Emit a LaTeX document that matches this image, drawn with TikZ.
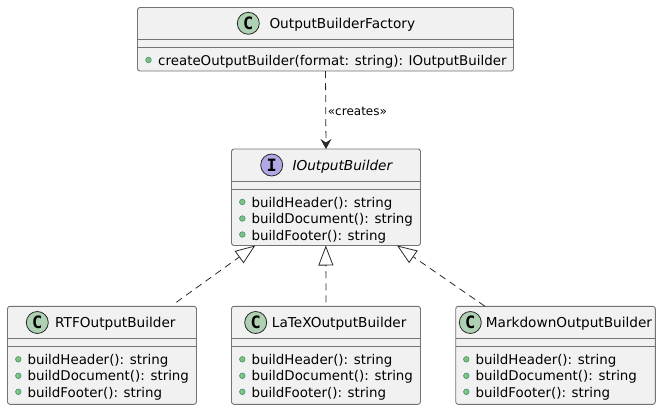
\documentclass[tikz,border=0pt]{standalone}
\usepackage{fontspec}
\setmainfont{DejaVu Sans}
\newfontfamily\glyphfont{DejaVu Sans Mono}
\usetikzlibrary{arrows.meta}
\definecolor{boxfill}{HTML}{F1F1F1}
\definecolor{boxline}{HTML}{737373}
\definecolor{inkline}{HTML}{2A2A2A}
\definecolor{classcirc}{HTML}{ADD1B2}
\definecolor{ifacecirc}{HTML}{B4A7E5}
\definecolor{dotfill}{HTML}{84BE84}
\definecolor{dotline}{HTML}{3A9A6A}
\tikzset{
  x=1pt,y=-1pt,
  umlbox/.style={draw=boxline,fill=boxfill,line width=0.9pt,rounded corners=2.5pt,inner sep=0pt,outer sep=0pt},
  sepline/.style={draw=boxline,line width=0.9pt},
  titletext/.style={inner sep=0pt,anchor=base west,text=black,font=\fontsize{13.65}{14}\selectfont},
  membertext/.style={inner sep=0pt,anchor=base west,text=black,font=\fontsize{13.4}{14}\selectfont},
  badge/.style={circle,draw=inkline,line width=0.8pt,minimum size=22pt,inner sep=0pt,text=black,font=\fontsize{17}{17}\selectfont\glyphfont\bfseries},
  memberdot/.style={circle,draw=dotline,fill=dotfill,line width=0.6pt,minimum size=5.6pt,inner sep=0pt},
  dep/.style={draw=inkline,line width=0.8pt,dash pattern=on 7pt off 5pt},
  realize/.style={dep,-{Triangle[open,length=20pt,width=15pt,line width=0.8pt,fill=white]}},
  creates/.style={dep,-{Stealth[length=10pt,width=11pt,inset=3.5pt,fill=inkline]}},
}
% name, left, top, right, bottom
\newcommand{\umlbox}[5]{%
  \node[umlbox,minimum width=#4pt-#2pt,minimum height=#5pt-#3pt] (#1) at ({(#2+#4)/2},{(#3+#5)/2}) {};
  \draw[sepline] (#2,#3+32) -- (#4,#3+32);
  \draw[sepline] (#2,#3+40) -- (#4,#3+40);
}
% prefix, dot x, top of box
\newcommand{\threemembers}[3]{%
  \node[memberdot] (#1d1) at (#2,#3+53) {};
  \node[memberdot] (#1d2) at (#2,#3+69.5) {};
  \node[memberdot] (#1d3) at (#2,#3+85.5) {};
  \node[membertext] (#1m1) at (#2+9,#3+58) {buildHeader(): string};
  \node[membertext] (#1m2) at (#2+9,#3+74.5) {buildDocument(): string};
  \node[membertext] (#1m3) at (#2+9,#3+91) {buildFooter(): string};
}
\begin{document}
\begin{tikzpicture}
\useasboundingbox (0,0) rectangle (661,410);
\umlbox{factory}{137.5}{7.5}{513.5}{71}
\node[badge,fill=classcirc] (factoryc) at (248.3,23.3) {C};
\node[titletext] (factoryt) at (269.3,28.5) {OutputBuilderFactory};
\node[memberdot] (factoryd) at (148.5,60) {};
\node[membertext] (factorym) at (158,65) {createOutputBuilder(format: string): IOutputBuilder};

\umlbox{iface}{231.5}{149}{420.5}{245.5}
\node[badge,fill=ifacecirc] (ifacec) at (271.7,165) {I};
\node[titletext,font=\fontsize{13.65}{14}\selectfont\itshape] (ifacet) at (292.3,170.2) {IOutputBuilder};
\threemembers{iface}{242.3}{149}

\umlbox{rtf}{7.5}{306.3}{196.5}{404.3}
\node[badge,fill=classcirc] (rtfc) at (37.3,322.5) {C};
\node[titletext] (rtft) at (55,327.7) {RTFOutputBuilder};
\threemembers{rtf}{18.3}{306.3}

\umlbox{latex}{231.5}{306.3}{420.5}{404.3}
\node[badge,fill=classcirc] (latexc) at (255.7,322.5) {C};
\node[titletext] (latext) at (271.7,327.7) {LaTeXOutputBuilder};
\threemembers{latex}{242.3}{306.3}

\umlbox{md}{455.7}{306.3}{655.3}{404.3}
\node[badge,fill=classcirc] (mdc) at (470.3,322.5) {C};
\node[titletext] (mdt) at (485.7,327.7) {MarkdownOutputBuilder};
\threemembers{md}{466.3}{306.3}

\draw[creates] (factory.south) -- (iface.north);
\node[inner sep=0pt,anchor=base west,text=black,font=\fontsize{12}{12}\selectfont] (lab) at (327.7,115) {«creates»};
\draw[realize] ([xshift=74.3pt,yshift=4pt]rtf.north) -- ([xshift=-70.7pt]iface.south);
\draw[realize] ([yshift=4pt]latex.north) -- ([xshift=-0.2pt]iface.south);
\draw[realize] ([xshift=-70.5pt]md.north) -- ([xshift=71pt]iface.south);
\end{tikzpicture}
\end{document}
